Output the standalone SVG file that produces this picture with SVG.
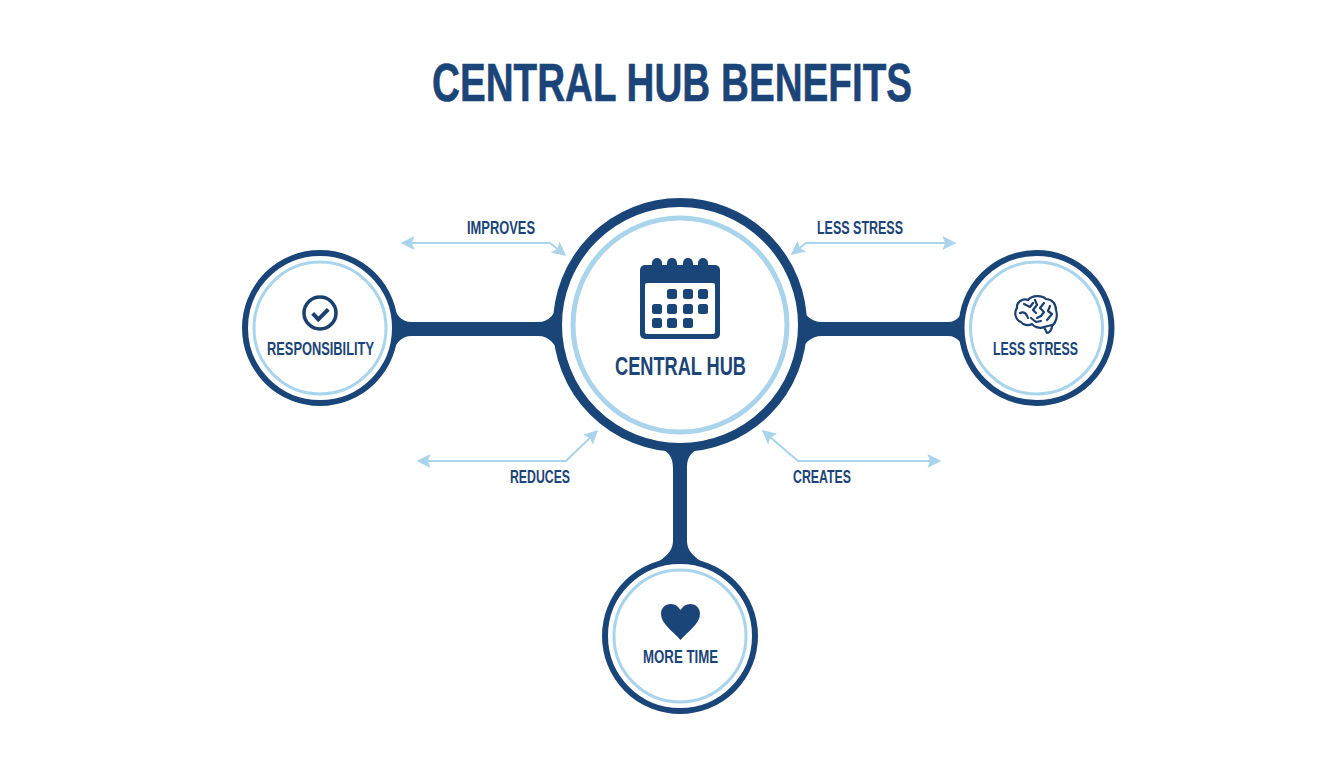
<svg xmlns="http://www.w3.org/2000/svg" width="1344" height="768" viewBox="0 0 1344 768">
<style>
.t{font-family:"Liberation Sans Narrow","Liberation Sans",sans-serif;font-weight:700;fill:#1b4478;text-anchor:middle}
.l{font-size:19px}
.out{fill:#fff;stroke:#1a4579;stroke-width:6}
.in{fill:none;stroke:#a9d4ec;stroke-width:3}
.bar{fill:#1a4579}
.ar{fill:none;stroke:#a9d4ec;stroke-width:2;marker-start:url(#ah);marker-end:url(#ah)}
.d{fill:#1a4579}
</style>
<defs>
<marker id="ah" viewBox="0 0 10 10" refX="9" refY="5" markerWidth="14" markerHeight="14" markerUnits="userSpaceOnUse" orient="auto-start-reverse"><path d="M0 0L10 5L0 10L2 5Z" fill="#a9d4ec"/></marker>
</defs>
<rect width="1344" height="768" fill="#fff"/>
<text class="t" x="672" y="101" font-size="54" textLength="480" lengthAdjust="spacingAndGlyphs" stroke="#1b4478" stroke-width="0.6">CENTRAL HUB BENEFITS</text>
<g id="connectors">
<path class="bar" d="M390 300C396 314 400 322 412 322H538C550 322 554 314 562 300V356C554 344 550 336 538 336H412C400 336 396 344 390 356Z"/>
<path class="bar" d="M796 300C804 314 810 322 822 322H948C958 322 962 314 970 300V356C962 344 958 336 948 336H822C810 336 804 344 796 356Z"/>
<path class="bar" d="M652 444C668 450 673 456 673 468V540C673 550 668 556 652 566H708C692 556 687 550 687 540V468C687 456 692 450 708 444Z"/>
<path class="ar" d="M402 243H550L565 255"/>
<path class="ar" d="M955 243H806L792 254"/>
<path class="ar" d="M418 461H566L597 431"/>
<path class="ar" d="M940 461H798L763 431"/>
</g>
<g id="lbl-improves"><text class="t l" x="501" y="234" textLength="68" lengthAdjust="spacingAndGlyphs">IMPROVES</text></g>
<g id="lbl-less-stress"><text class="t l" x="860" y="234" textLength="86" lengthAdjust="spacingAndGlyphs">LESS STRESS</text></g>
<g id="lbl-reduces"><text class="t l" x="540" y="483" textLength="60" lengthAdjust="spacingAndGlyphs">REDUCES</text></g>
<g id="lbl-creates"><text class="t l" x="822" y="483" textLength="58" lengthAdjust="spacingAndGlyphs">CREATES</text></g>
<g id="hub">
<circle cx="680" cy="325" r="122.5" fill="#fff" stroke="#1a4579" stroke-width="9"/>
<circle cx="680" cy="325" r="107" fill="none" stroke="#a9d4ec" stroke-width="5"/>
<g class="d">
<rect x="640" y="265" width="80" height="74" rx="5"/>
<rect x="652" y="258" width="10" height="14" rx="5"/><rect x="667" y="258" width="10" height="14" rx="5"/><rect x="683" y="258" width="10" height="14" rx="5"/><rect x="698" y="258" width="10" height="14" rx="5"/>
</g>
<rect x="645" y="283" width="70" height="51" rx="2" fill="#fff"/>
<g class="d">
<rect x="667" y="289" width="10" height="10" rx="2.500"/><rect x="683" y="289" width="10" height="10" rx="2.500"/><rect x="698" y="289" width="10" height="10" rx="2.500"/>
<rect x="652" y="304" width="10" height="10" rx="2.500"/><rect x="667" y="304" width="10" height="10" rx="2.500"/><rect x="683" y="304" width="10" height="10" rx="2.500"/><rect x="698" y="304" width="10" height="10" rx="2.500"/>
<rect x="652" y="318" width="10" height="10" rx="2.500"/><rect x="667" y="318" width="10" height="10" rx="2.500"/><rect x="683" y="318" width="10" height="10" rx="2.500"/>
</g>
<text class="t" x="680.500" y="374.500" font-size="25" textLength="131" lengthAdjust="spacingAndGlyphs">CENTRAL HUB</text>
</g>
<g id="responsibility">
<circle class="out" cx="320" cy="328" r="75"/>
<circle class="in" cx="320" cy="328" r="66"/>
<circle cx="320" cy="313" r="16" fill="none" stroke="#1b3f6e" stroke-width="3.500"/>
<path d="M312.700 313.300L318.300 319.300L328.300 309.300" fill="none" stroke="#1b3f6e" stroke-width="4"/>
<text class="t l" x="320.500" y="355" textLength="107" lengthAdjust="spacingAndGlyphs">RESPONSIBILITY</text>
</g>
<g id="less-stress">
<circle class="out" cx="1036.500" cy="328" r="75"/>
<circle class="in" cx="1036.500" cy="328" r="66"/>
<g fill="none" stroke="#1b3f6e" stroke-width="2.200" stroke-linecap="round" stroke-linejoin="round">
<path d="M1021 322C1015 320 1014 312 1017 308C1016 302 1023 298 1028 300C1032 295 1042 295 1046 299C1052 299 1056 304 1056 310C1058 316 1056 323 1052 326C1052 330 1049 333 1047 333L1044 327C1040 329 1034 327 1032 324C1028 326 1023 325 1021 322Z"/>
<path d="M1024 304L1030 307L1033 303M1020 313C1024 311 1027 314 1028 318M1035 300L1037 305L1033 310L1036 313M1044 303L1040 308L1044 312L1041 316L1037 318M1050 306L1048 311L1052 314L1047 320M1031 318L1036 322L1041 321M1044 327L1052 325"/>
</g>
<text class="t l" x="1035.500" y="355" textLength="85" lengthAdjust="spacingAndGlyphs">LESS STRESS</text>
</g>
<g id="more-time">
<circle class="out" cx="680" cy="636" r="75"/>
<circle class="in" cx="680" cy="636" r="66"/>
<path class="d" d="M680.500 640C674 632 661 624 661 614C661 608 665 604 671 604C675 604 678 606 680.500 610C683 606 686 604 690 604C696 604 700 608 700 614C700 624 687 632 680.500 640Z"/>
<text class="t l" x="680.500" y="663" textLength="75" lengthAdjust="spacingAndGlyphs">MORE TIME</text>
</g>
</svg>
